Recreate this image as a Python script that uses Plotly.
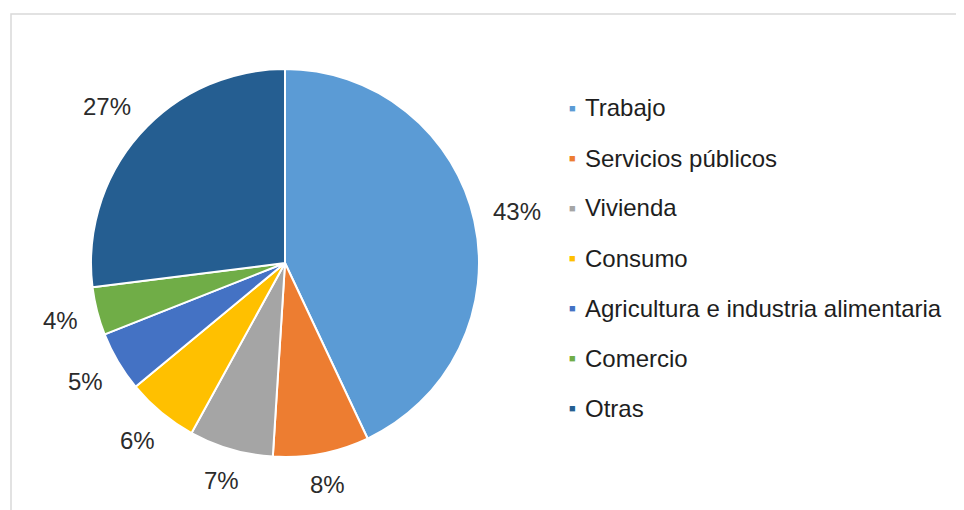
import math
import plotly.graph_objects as go

labels = ["Trabajo", "Servicios públicos", "Vivienda", "Consumo",
          "Agricultura e industria alimentaria", "Comercio", "Otras"]
values = [43, 8, 7, 6, 5, 4, 27]
colors = ["#5B9BD5", "#ED7D31", "#A5A5A5", "#FFC000", "#4472C4", "#70AD47", "#255E91"]

W, H = 964, 510
OFF = 8  # page offset of the plot inside the browser window
FONT = "Liberation Sans, Arial, sans-serif"
LBL_SIZE = 24

# pie geometry (figure pixels)
CX, CY, R = 285 - OFF, 263 - OFF, 194

fig = go.Figure(go.Pie(
    labels=labels, values=values, sort=False, direction="clockwise", rotation=0,
    marker=dict(colors=colors, line=dict(color="white", width=2)),
    textinfo="none",
    domain=dict(x=[(CX - R) / W, (CX + R) / W], y=[1 - (CY + R) / H, 1 - (CY - R) / H]),
    showlegend=False, hoverinfo="label+percent",
))

annotations = []
total = sum(values)
cum = 0
for v in values:
    pct = f"{round(100 * v / total)}%"
    theta = 2 * math.pi * (cum + v / 2) / total
    cum += v
    s, c = math.sin(theta), math.cos(theta)
    ndig = len(pct) - 1
    hw = LBL_SIZE * (0.556 * ndig + 0.889) / 2
    hh = LBL_SIZE * 0.42
    d = R + 18 + hw * abs(s) + hh * abs(c)
    px, py = CX + d * s, CY - d * c
    annotations.append(dict(x=px / W, y=1 - py / H, xref="paper", yref="paper", text=pct,
                            showarrow=False, xanchor="center", yanchor="middle",
                            font=dict(family=FONT, size=LBL_SIZE, color="#2b2b2b")))

for i, (lab, col) in enumerate(zip(labels, colors)):
    yy = 1 - (108 - OFF + 50 * i) / H
    annotations.append(dict(x=(572 - OFF) / W, y=yy, xref="paper", yref="paper", text="■",
                            showarrow=False, xanchor="center", yanchor="middle",
                            font=dict(family=FONT, size=11, color=col)))
    annotations.append(dict(x=(583 - OFF) / W, y=yy, xref="paper", yref="paper", text=lab,
                            showarrow=False, xanchor="left", yanchor="middle",
                            font=dict(family=FONT, size=24, color="#1e1e1e")))

fig.update_layout(
    width=W, height=H, margin=dict(l=0, r=0, t=0, b=0),
    paper_bgcolor="white", plot_bgcolor="white",
    annotations=annotations,
    shapes=[dict(type="rect", xref="paper", yref="paper",
                 x0=(11 - OFF) / W, y0=-0.05, x1=1.05, y1=1 - (14 - OFF) / H,
                 line=dict(color="#d9d9d9", width=1.5))],
)
fig.write_html("out.html")
